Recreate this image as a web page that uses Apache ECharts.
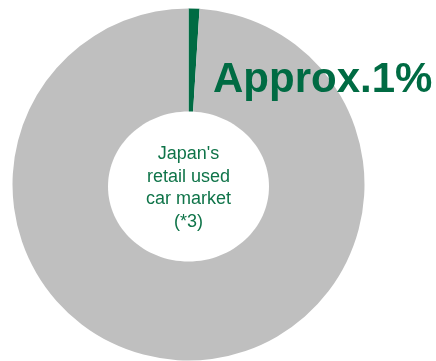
<!DOCTYPE html>
<html>
<head>
<meta charset="utf-8">
<style>
  html, body { margin: 0; padding: 0; background: #ffffff; }
  #chart { width: 436px; height: 361px; }
</style>
<script src="https://cdn.jsdelivr.net/npm/echarts@6/dist/echarts.min.js"></script>
</head>
<body>
<div id="chart"></div>
<script>
// Share of the retail used car market
const segmentNames = ['Share', 'Rest of market'];
const segmentValues = [1, 99];
const segmentColors = ['#006B43', '#BFBFBF'];
const shareLabel = 'Approx.1%';
const centerLines = ["Japan's", 'retail used', 'car market', '(*3)'];

const chart = echarts.init(document.getElementById('chart'), null, { renderer: 'canvas' });

const GREEN = '#006B43';
const CX = 188.5, CY = 184.5;

chart.setOption({
  animation: false,
  backgroundColor: '#ffffff',
  series: [{
    type: 'pie',
    center: [CX, CY],
    radius: [0, 176],
    startAngle: 90,
    clockwise: true,
    silent: true,
    label: { show: false },
    labelLine: { show: false },
    itemStyle: { borderWidth: 0 },
    data: segmentNames.map((n, i) => ({
      name: n,
      value: segmentValues[i],
      itemStyle: { color: segmentColors[i] }
    }))
  }],
  graphic: [
    {
      // hole in the middle of the ring
      type: 'ellipse',
      shape: { cx: 188.5, cy: 186.5, rx: 80.5, ry: 75 },
      style: { fill: '#ffffff' },
      z: 10
    },
    {
      type: 'text',
      left: 213,
      top: 59,
      z: 11,
      style: {
        text: shareLabel,
        fill: GREEN,
        font: 'bold 42px "Liberation Sans", Arial, sans-serif'
      }
    },
    {
      type: 'text',
      x: 188.5,
      y: 188,
      z: 11,
      style: {
        text: centerLines.join('\n'),
        fill: '#0F7449',
        font: '18px "Liberation Sans", Arial, sans-serif',
        lineHeight: 22.5,
        align: 'center',
        verticalAlign: 'middle'
      }
    }
  ]
});
</script>
</body>
</html>
